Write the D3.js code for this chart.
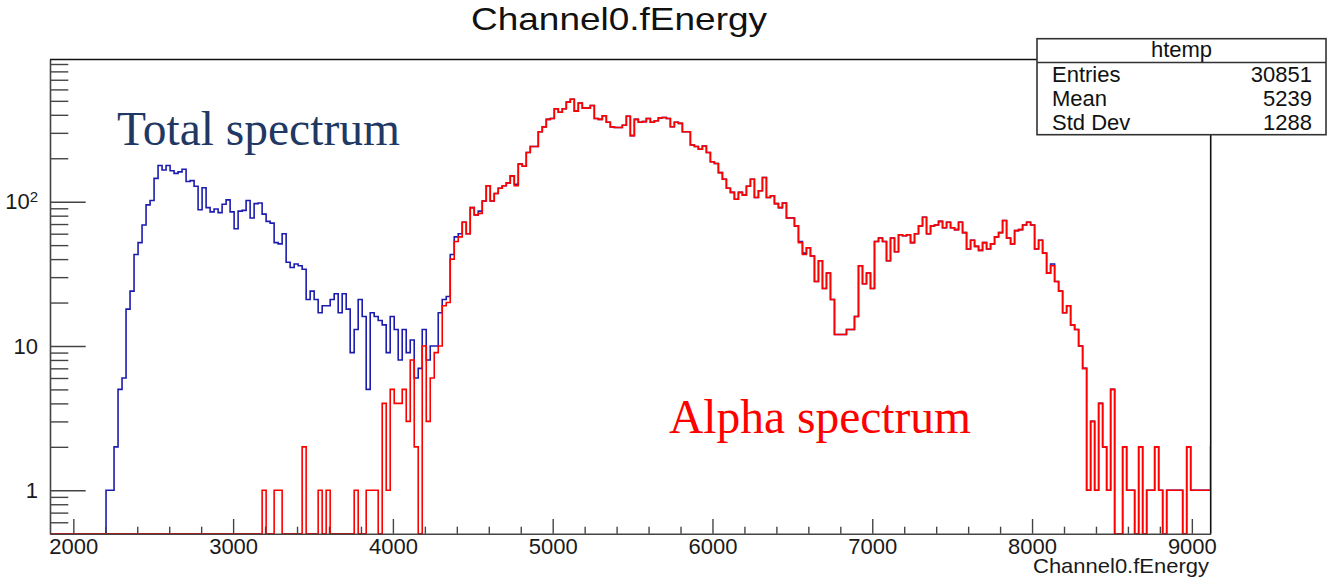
<!DOCTYPE html>
<html>
<head>
<meta charset="utf-8">
<script src="https://cdn.jsdelivr.net/npm/d3@7"></script>
<style>
  body { margin: 0; background: #fff; }
  text { font-family: "Liberation Sans", Arial, Helvetica, sans-serif; }
</style>
</head>
<body>
<div id="chart"></div>
<script>
// histogram binning of Channel0.fEnergy (htemp)
var xMin = 1854, xMax = 9118, nBins = 290;
var yMin = 0.5, yMax = 967;

var xMajorTicks = [2000, 3000, 4000, 5000, 6000, 7000, 8000, 9000];
var yMajorTicks = [1, 10, 100];
var yTickBase = ["1", "10", "10"];
var yTickExp = ["", "", "2"];

// total spectrum, counts per bin starting at bin 14 (last value is the clipped bin past the edge)
var totalFirstBin = 14;
var totalCounts = [
  1, 1, 2, 5, 6, 18, 24, 43, 52, 69,
  95, 102, 145, 178, 166, 178, 164, 157, 161, 168,
  138, 140, 128, 88, 125, 91, 85, 89, 84, 96,
  103, 85, 65, 86, 87, 102, 77, 97, 98, 82,
  73, 71, 52, 51, 60, 38, 35, 37, 36, 34,
  21, 24, 21, 17, 19, 19, 21, 23, 17, 23,
  18, 9, 13, 21, 16, 5, 17, 16, 15, 14,
  9, 16, 13, 8, 13, 9, 11, 6, 7, 13,
  8, 10, 10, 17, 21, 22, 43, 57, 60, 72,
  60, 91, 81, 86, 101, 129, 101, 114, 124, 129,
  135, 151, 132, 182, 176, 219, 241, 241, 305, 330,
  372, 377, 441, 417, 441, 490, 513, 424, 482, 445,
  445, 464, 377, 372, 394, 355, 330, 327, 327, 339,
  391, 287, 372, 355, 359, 377, 355, 364, 381, 383,
  377, 331, 355, 349, 305, 305, 247, 241, 231, 243,
  219, 189, 184, 159, 143, 124, 116, 104, 116, 111,
  128, 143, 107, 119, 147, 107, 110, 97, 91, 98,
  77, 77, 68, 53, 44, 48, 42, 28, 39, 25,
  32, 21, 12, 12, 12, 13, 13, 16, 36, 27,
  32, 25, 53, 56, 53, 39, 56, 45, 59, 58,
  59, 52, 60, 68, 78, 60, 68, 69, 73, 66,
  72, 66, 64, 72, 61, 47, 54, 49, 46, 52,
  47, 51, 57, 61, 74, 56, 51, 63, 64, 69,
  72, 69, 47, 54, 44, 32, 37, 28, 24, 17,
  19, 14, 13, 10, 7, 1, 3, 1, 4, 2,
  1, 5, 0, 0, 2, 1, 1, 0, 2, 0,
  1, 1, 2, 1, 0, 1, 1, 1, 1, 0,
  2, 1, 1, 1, 1, 1, 2
];

// alpha spectrum, counts per bin starting at bin 53
var alphaFirstBin = 53;
var alphaCounts = [
  1, 0, 0, 1, 1, 0, 0, 0, 0, 0,
  2, 0, 0, 0, 1, 0, 1, 0, 0, 0,
  0, 0, 0, 1, 0, 0, 1, 1, 1, 0,
  4, 1, 5, 4, 4, 5, 3, 8, 2, 0,
  10, 3, 6, 9, 10, 19, 20, 40, 53, 57,
  72, 60, 91, 81, 83, 101, 129, 101, 114, 124,
  129, 135, 151, 129, 182, 176, 219, 241, 241, 305,
  330, 372, 377, 441, 417, 441, 490, 513, 424, 482,
  445, 445, 464, 377, 372, 394, 355, 330, 327, 327,
  339, 391, 287, 372, 355, 359, 377, 355, 364, 381,
  383, 377, 331, 355, 349, 305, 305, 247, 241, 231,
  243, 219, 189, 184, 159, 143, 124, 116, 104, 116,
  111, 128, 143, 107, 119, 147, 107, 110, 97, 91,
  98, 77, 77, 68, 52, 43, 48, 42, 28, 39,
  25, 32, 21, 12, 12, 12, 13, 13, 16, 36,
  27, 32, 25, 53, 56, 53, 39, 56, 45, 59,
  58, 59, 52, 60, 68, 78, 60, 68, 69, 73,
  66, 72, 66, 64, 72, 61, 47, 54, 49, 46,
  52, 47, 51, 57, 61, 74, 56, 51, 63, 64,
  69, 72, 69, 47, 54, 44, 32, 36, 28, 24,
  17, 19, 14, 13, 10, 7, 1, 3, 1, 4,
  2, 1, 5, 0, 0, 2, 1, 1, 0, 2,
  0, 1, 1, 2, 1, 0, 1, 1, 1, 1,
  0, 2, 1, 1, 1, 1, 1, 2
];

var statsLabels = ["Entries", "Mean", "Std Dev"];
var statsValues = ["30851", "5239", "1288"];

var svgWidth = 1327;
var svgHeight = 577;

var frame = { left: 50, right: 1210.7, top: 59.5, bottom: 533.7 };

var svg = d3.select("#chart")
  .append("svg")
  .attr("width", svgWidth)
  .attr("height", svgHeight);

var x = d3.scaleLinear().domain([xMin, xMax]).range([frame.left, frame.right]);
var y = d3.scaleLog().domain([yMin, yMax]).range([frame.bottom, frame.top]);

svg.append("defs").append("clipPath")
  .attr("id", "plotclip")
  .append("rect")
  .attr("x", frame.left)
  .attr("y", frame.top - 2)
  .attr("width", frame.right - frame.left)
  .attr("height", frame.bottom - frame.top + 4);

// title
svg.append("text")
  .attr("x", 619)
  .attr("y", 30)
  .attr("text-anchor", "middle")
  .attr("textLength", 296)
  .attr("lengthAdjust", "spacingAndGlyphs")
  .style("font-size", "32px")
  .style("fill", "#111")
  .text("Channel0.fEnergy");

// step outline like ROOT draws a TH1
function stepPath(firstBin, counts) {
  var binW = (xMax - xMin) / nBins;
  var pts = [[x(xMin), y(yMin)], [x(xMin + firstBin * binW), y(yMin)]];
  counts.forEach(function(c, i) {
    var lo = xMin + (firstBin + i) * binW;
    var v = c > 0 ? c : yMin;
    pts.push([x(lo), y(v)]);
    pts.push([x(lo + binW), y(v)]);
  });
  return d3.line()(pts);
}

var plot = svg.append("g").attr("clip-path", "url(#plotclip)");

plot.append("path")
  .attr("d", stepPath(totalFirstBin, totalCounts))
  .attr("fill", "none")
  .attr("stroke", "#1c1cb0")
  .attr("stroke-width", 1.6);

plot.append("path")
  .attr("d", stepPath(alphaFirstBin, alphaCounts))
  .attr("fill", "none")
  .attr("stroke", "#ff0000")
  .attr("stroke-width", 1.6);

// axes
var xMinor = d3.range(2000, 9200, 200).filter(function(d) { return d % 1000 !== 0; });
var yMinor = [];
[0.1, 1, 10, 100].forEach(function(dec) {
  for (var k = 2; k <= 9; k++) {
    var v = dec * k;
    if (v > yMin && v < yMax) yMinor.push(v);
  }
});

svg.append("g")
  .attr("transform", "translate(0," + frame.bottom + ")")
  .call(d3.axisBottom(x).tickValues(xMajorTicks).tickSize(-14.7).tickSizeOuter(0).tickPadding(5)
    .tickFormat(d3.format("d")));
svg.append("g")
  .attr("transform", "translate(0," + frame.bottom + ")")
  .call(d3.axisBottom(x).tickValues(xMinor).tickSize(-7).tickFormat(""))
  .select(".domain").remove();

var yAxis = svg.append("g")
  .attr("transform", "translate(" + frame.left + ",0)")
  .call(d3.axisLeft(y).tickValues(yMajorTicks).tickSize(-35.7).tickSizeOuter(0).tickPadding(12)
    .tickFormat(""));
svg.append("g")
  .attr("transform", "translate(" + frame.left + ",0)")
  .call(d3.axisLeft(y).tickValues(yMinor).tickSize(-18.3).tickFormat(""))
  .select(".domain").remove();

// y labels with a raised exponent, as ROOT writes 10^2
yAxis.selectAll(".tick text").each(function(d, i) {
  var t = d3.select(this).text("");
  t.append("tspan").text(yTickBase[i]);
  if (yTickExp[i]) {
    t.append("tspan")
      .attr("dy", "-0.45em")
      .style("font-size", "15px")
      .text(yTickExp[i]);
  }
});

svg.selectAll(".tick line").attr("stroke", "#444").attr("stroke-width", 1.4);
svg.selectAll(".domain").attr("stroke", "#444").attr("stroke-width", 1.6);
svg.selectAll(".tick text")
  .style("font-size", "22px")
  .style("font-family", "'Liberation Sans', Arial, sans-serif")
  .attr("fill", "#1a1a1a");

// top and right frame lines
svg.append("path")
  .attr("d", "M" + frame.left + "," + frame.top + "H" + frame.right + "V" + frame.bottom)
  .attr("fill", "none")
  .attr("stroke", "#111")
  .attr("stroke-width", 1.6);

// x axis title
svg.append("text")
  .attr("x", 1209)
  .attr("y", 573)
  .attr("text-anchor", "end")
  .attr("textLength", 176)
  .attr("lengthAdjust", "spacingAndGlyphs")
  .style("font-size", "21px")
  .style("fill", "#1a1a1a")
  .text("Channel0.fEnergy");

// stats box
var box = { x: 1037, y: 38.7, w: 289, h: 96 };
var stats = svg.append("g");
stats.append("rect")
  .attr("x", box.x).attr("y", box.y)
  .attr("width", box.w).attr("height", box.h)
  .attr("fill", "#fff")
  .attr("stroke", "#333")
  .attr("stroke-width", 1.6);
stats.append("line")
  .attr("x1", box.x).attr("x2", box.x + box.w)
  .attr("y1", 62.5).attr("y2", 62.5)
  .attr("stroke", "#333")
  .attr("stroke-width", 1.4);
stats.append("text")
  .attr("x", box.x + box.w / 2)
  .attr("y", 57)
  .attr("text-anchor", "middle")
  .style("font-size", "22px")
  .style("fill", "#111")
  .text("htemp");
statsLabels.forEach(function(lbl, i) {
  var yy = 82 + i * 24.2;
  stats.append("text")
    .attr("x", 1052).attr("y", yy)
    .style("font-size", "22px").style("fill", "#111")
    .text(lbl);
  stats.append("text")
    .attr("x", 1312).attr("y", yy)
    .attr("text-anchor", "end")
    .style("font-size", "22px").style("fill", "#111")
    .text(statsValues[i]);
});

// annotations
svg.append("text")
  .attr("x", 117)
  .attr("y", 145)
  .style("font-family", "'Liberation Serif', 'Times New Roman', serif")
  .style("font-size", "47.5px")
  .style("fill", "#1f3864")
  .text("Total spectrum");

svg.append("text")
  .attr("x", 669)
  .attr("y", 433)
  .style("font-family", "'Liberation Serif', 'Times New Roman', serif")
  .style("font-size", "47.5px")
  .style("fill", "#ff0000")
  .text("Alpha spectrum");
</script>
</body>
</html>
